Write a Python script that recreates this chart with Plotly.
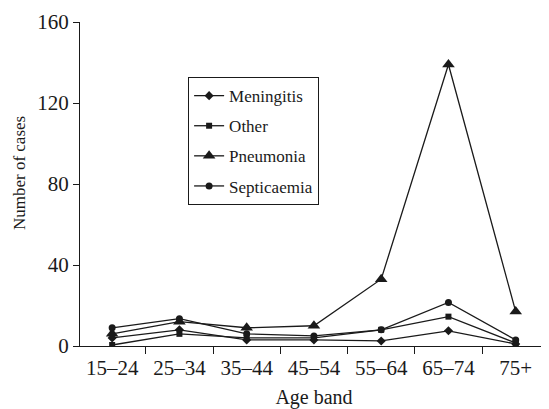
import plotly.graph_objects as go

age_bands = ["15–24", "25–34", "35–44", "45–54", "55–64", "65–74", "75+"]
meningitis = [4, 8, 3, 3, 2.5, 7.5, 1]
other = [0.5, 6, 4, 4, 8, 14.5, 1.5]
pneumonia = [6, 12, 9, 10, 33, 139, 17]
septicaemia = [9, 13.5, 6, 5, 8, 21.5, 3]

series = [
    ("Meningitis", meningitis, "diamond", 7),
    ("Other", other, "square", 6),
    ("Pneumonia", pneumonia, "triangle-up", 11),
    ("Septicaemia", septicaemia, "circle", 7),
]

FONT = "Liberation Serif, Times New Roman, DejaVu Serif, serif"
INK = "#1a1a1a"

fig = go.Figure()
for i, (name, vals, sym, sz) in enumerate(series):
    fig.add_trace(go.Scatter(
        x=age_bands, y=vals, name=name, mode="lines+markers",
        line=dict(color=INK, width=1.3),
        marker=dict(symbol=sym, size=sz, color=INK),
        legendgroup=f"g{i}",
    ))

fig.update_layout(
    width=541, height=401,
    margin=dict(l=72, r=1, t=14, b=63),
    paper_bgcolor="white", plot_bgcolor="white",
    font=dict(family=FONT, color=INK, size=20),
    showlegend=True,
    legend=dict(
        x=0.231, y=0.83, xanchor="left", yanchor="top",
        bordercolor=INK, borderwidth=1, bgcolor="white",
        font=dict(family=FONT, size=17, color=INK),
        tracegroupgap=5, itemwidth=30,
    ),
    xaxis=dict(
        type="category", range=[-0.478, 6.48], automargin=False,
        tickson="boundaries", ticks="outside", ticklen=7, tickcolor=INK,
        showline=True, linecolor=INK, linewidth=1.3,
        showgrid=False, zeroline=False,
        title=dict(text="Age band", font=dict(family=FONT, size=20), standoff=14),
        tickfont=dict(family=FONT, size=21), ticklabelstandoff=3,
    ),
    yaxis=dict(
        range=[0, 160], tickvals=[0, 40, 80, 120, 160], automargin=False,
        ticks="outside", ticklen=6, tickcolor=INK,
        showline=True, linecolor=INK, linewidth=1.3,
        showgrid=False, zeroline=False,
        tickfont=dict(family=FONT, size=21),
    ),
    annotations=[dict(
        text="Number of cases", textangle=-90, showarrow=False,
        xref="paper", yref="paper", x=-0.128, y=0.534,
        xanchor="center", yanchor="middle",
        font=dict(family=FONT, size=17, color=INK),
    )],
)

fig.write_html("out.html")
